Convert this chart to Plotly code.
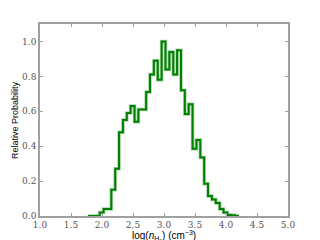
import plotly.graph_objects as go

bin_edges = [1.776, 1.838, 1.901, 1.963, 2.026, 2.088, 2.150, 2.213, 2.275, 2.338,
             2.400, 2.462, 2.525, 2.587, 2.650, 2.712, 2.774, 2.837, 2.899, 2.962,
             3.024, 3.086, 3.149, 3.211, 3.274, 3.336, 3.398, 3.461, 3.523, 3.586,
             3.648, 3.710, 3.773, 3.835, 3.898, 3.960, 4.022, 4.085, 4.147, 4.210]
rel_prob = [0.0, 0.0, 0.0, 0.02, 0.04, 0.04, 0.15, 0.27, 0.48, 0.55,
            0.59, 0.63, 0.54, 0.61, 0.61, 0.71, 0.81, 0.89, 0.78, 1.0,
            0.84, 0.94, 0.81, 0.95, 0.72, 0.585, 0.64, 0.385, 0.435, 0.335,
            0.185, 0.115, 0.095, 0.075, 0.04, 0.02, 0.006, 0.004, 0.0]

x_ticks = [1.0, 1.5, 2.0, 2.5, 3.0, 3.5, 4.0, 4.5, 5.0]
y_ticks = [0.0, 0.2, 0.4, 0.6, 0.8, 1.0]
x_title = ("log(<i>n</i><sub><span style='font-size:7px'>H₂</span></sub>) "
           "(cm<sup><span style='font-size:7px'>−3</span></sup>)")
y_title = "Relative Probability"

xs = list(bin_edges)
ys = list(rel_prob) + [rel_prob[-1]]

fig = go.Figure()
fig.add_trace(go.Scatter(x=xs, y=ys, mode="lines", line=dict(shape="hv", color="rgba(0,128,0,0.35)", width=3.5),
                         hoverinfo="skip", showlegend=False))
fig.add_trace(go.Scatter(x=xs, y=ys, mode="lines", line=dict(shape="hv", color="#008000", width=2),
                         showlegend=False))

axis_common = dict(showline=True, mirror="allticks", linecolor="#a0a0a0", linewidth=1.5,
                   ticks="inside", ticklen=3, tickcolor="#a0a0a0", showgrid=False, zeroline=False,
                   automargin=False,
                   tickfont=dict(family="DejaVu Serif", size=9, color="#555555"))

fig.update_xaxes(range=[1.0, 5.0], tickvals=x_ticks, ticktext=[f"{v:.1f}" for v in x_ticks],
                 ticklabelstandoff=-1, **axis_common)
fig.update_yaxes(range=[0.0, 1.1], tickvals=y_ticks, ticktext=[f"{v:.1f}" for v in y_ticks],
                 **axis_common)

fig.add_annotation(text=x_title, xref="paper", yref="paper", x=0.5, y=0, yshift=-11,
                   xanchor="center", yanchor="top", showarrow=False,
                   font=dict(family="Liberation Sans", size=10, color="black"))
fig.add_annotation(text=y_title, xref="paper", yref="paper", x=0, y=0.5, xshift=-25,
                   xanchor="center", yanchor="middle", textangle=-90, showarrow=False,
                   font=dict(family="Liberation Sans", size=9, color="black"))

fig.update_layout(width=320, height=240, margin=dict(l=40, r=32, t=24, b=24),
                  paper_bgcolor="white", plot_bgcolor="white")

fig.write_html("out.html", config={"displayModeBar": False},
               post_script="document.body.style.margin='0';document.body.style.overflow='hidden';")
